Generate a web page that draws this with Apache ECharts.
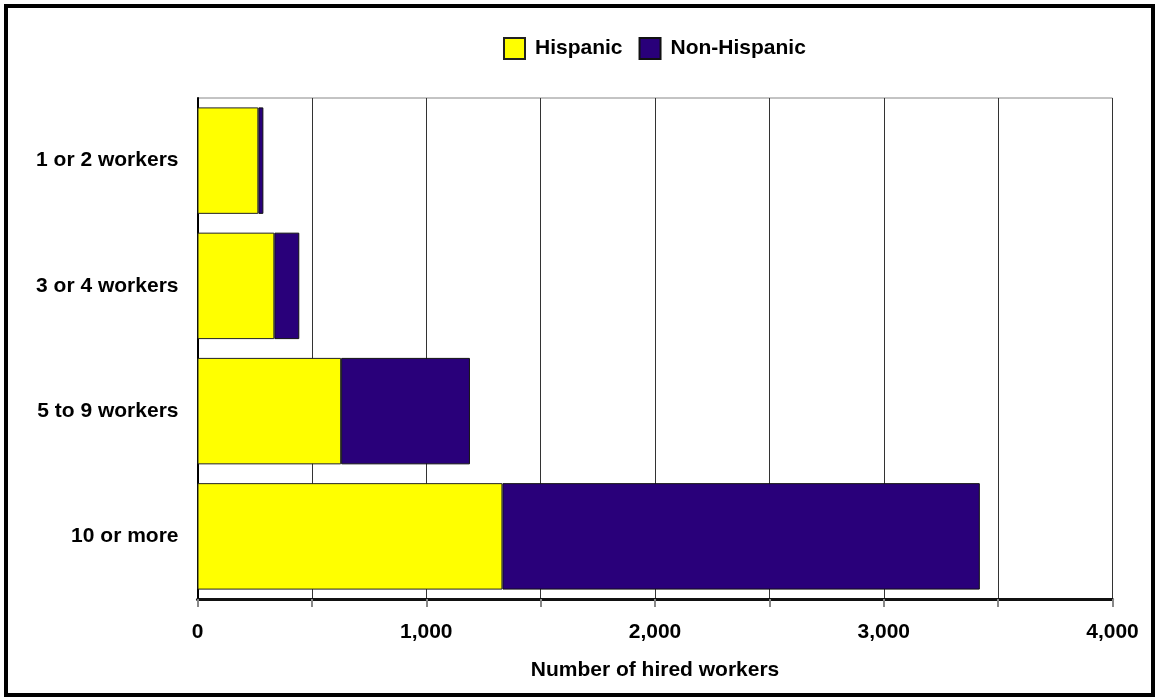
<!DOCTYPE html>
<html>
<head>
<meta charset="utf-8">
<script src="https://cdn.jsdelivr.net/npm/echarts@6/dist/echarts.min.js"></script>
<style>
html,body{margin:0;padding:0;background:#fff;}
#c{width:1159px;height:698px;}
</style>
</head>
<body>
<div id="c"></div>
<script>
const categories = ['1 or 2 workers', '3 or 4 workers', '5 to 9 workers', '10 or more'];
const hispanic = [266, 336, 628, 1333];
const nonHispanic = [22, 109, 563, 2087];
const seriesNames = ['Hispanic', 'Non-Hispanic'];
const xTicks = [0, 1000, 2000, 3000, 4000];

const FONT = '"Liberation Sans", Arial, sans-serif';
const FS = 21;
const chart = echarts.init(document.getElementById('c'), null, {renderer: 'canvas'});
chart.setOption({
  animation: false,
  backgroundColor: '#fff',
  textStyle: {fontFamily: FONT},
  graphic: [{
    type: 'rect', silent: true,
    shape: {x: 6, y: 6, width: 1147, height: 689},
    style: {fill: 'none', stroke: '#000', lineWidth: 4}
  }],
  legend: {
    left: 503, top: 37, padding: 0,
    itemWidth: 21, itemHeight: 21, itemGap: 16,
    textStyle: {fontFamily: FONT, fontWeight: 'bold', fontSize: FS, color: '#000', padding: [0,0,0,5]},
    data: seriesNames.map(n => ({name: n, icon: 'rect'}))
  },
  grid: {
    left: 197.5, top: 98, right: 46.5, bottom: 99,
    show: true, borderColor: '#888', borderWidth: 1, backgroundColor: 'transparent'
  },
  xAxis: {
    type: 'value', min: 0, max: 4000, interval: 500,
    name: 'Number of hired workers', nameLocation: 'middle', nameGap: 61,
    nameTextStyle: {fontFamily: FONT, fontWeight: 'bold', fontSize: FS, color: '#000'},
    axisLine: {show: true, lineStyle: {color: '#111', width: 3}},
    axisTick: {show: true, length: 8, lineStyle: {color: '#888', width: 2}},
    axisLabel: {
      margin: 23, fontFamily: FONT, fontWeight: 'bold', fontSize: FS, color: '#000',
      formatter: v => xTicks.indexOf(v) >= 0 ? v.toLocaleString('en-US') : ''
    },
    splitLine: {show: true, lineStyle: {color: '#333', width: 1}}
  },
  yAxis: {
    type: 'category', data: categories, inverse: true,
    axisLine: {show: true, lineStyle: {color: '#000', width: 2}},
    axisTick: {show: false},
    axisLabel: {margin: 19, fontFamily: FONT, fontWeight: 'bold', fontSize: FS, color: '#000'}
  },
  series: [
    {name: seriesNames[0], type: 'bar', stack: 't', data: hispanic, barCategoryGap: '15%',
     itemStyle: {color: '#FFFF00', borderColor: '#222', borderWidth: 1}},
    {name: seriesNames[1], type: 'bar', stack: 't', data: nonHispanic, barCategoryGap: '15%',
     itemStyle: {color: '#29007A', borderColor: '#111', borderWidth: 1}}
  ]
});
</script>
</body>
</html>
